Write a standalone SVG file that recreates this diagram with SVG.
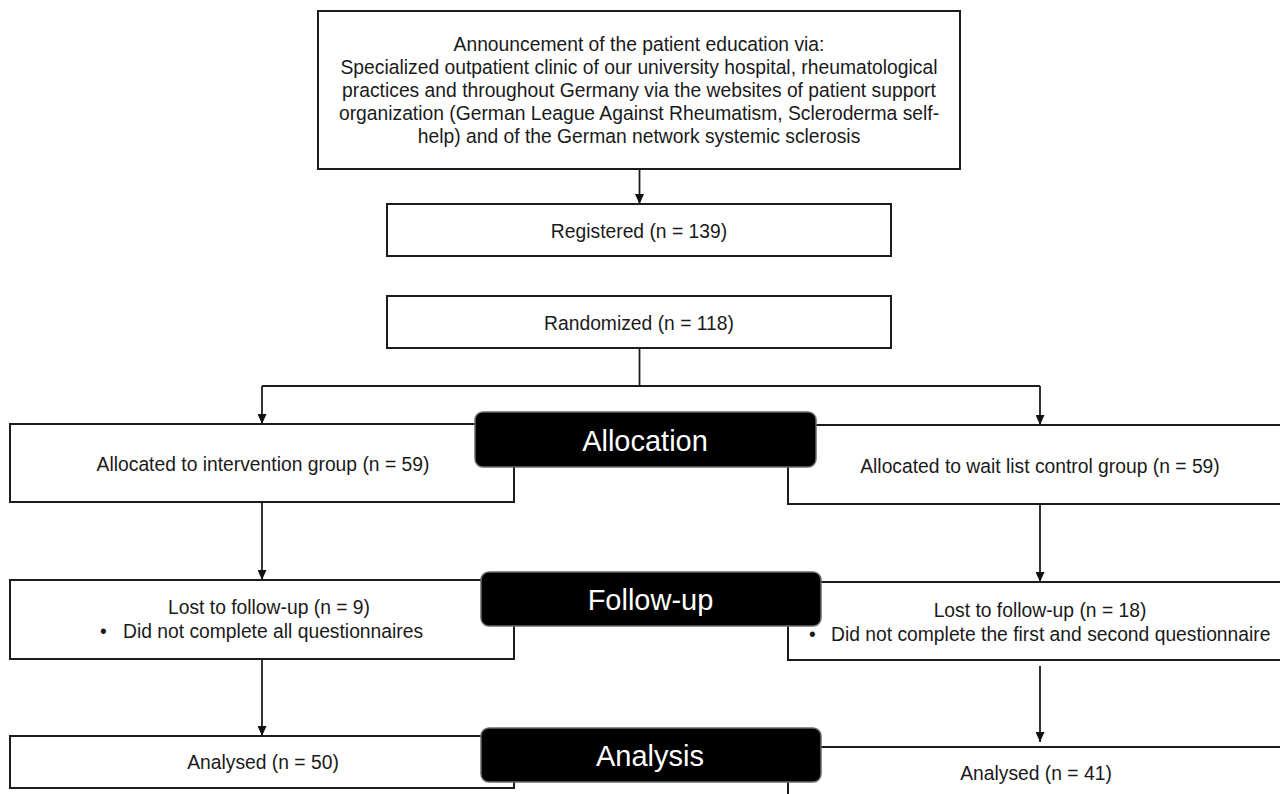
<svg xmlns="http://www.w3.org/2000/svg" width="1280" height="794" viewBox="0 0 1280 794">
<style>
.box{fill:#fff;stroke:#1c1c1c;stroke-width:2}
.stage{fill:#000;stroke:#6a6a6a;stroke-width:1.5}
.t{font-family:"Liberation Sans",Arial,sans-serif;font-size:19.3px;fill:#1a1a1a;text-anchor:middle}
.tl{font-family:"Liberation Sans",Arial,sans-serif;font-size:19.3px;fill:#1a1a1a}
.st{font-family:"Liberation Sans",Arial,sans-serif;font-size:29px;fill:#fff;text-anchor:middle}
.c{fill:none;stroke:#1c1c1c;stroke-width:1.8}
</style>
<defs>
<marker id="arr" markerUnits="userSpaceOnUse" markerWidth="10" markerHeight="9" refX="10" refY="4.5" orient="auto">
<path d="M0,0 L10,4.5 L0,9 z" fill="#111"/>
</marker>
</defs>
<rect width="1280" height="794" fill="#fff"/>

<g id="announcement">
<rect class="box" x="318" y="11" width="642" height="158"/>
<text class="t" x="639" y="51">Announcement of the patient education via:</text>
<text class="t" x="639" y="74">Specialized outpatient clinic of our university hospital, rheumatological</text>
<text class="t" x="639" y="97">practices and throughout Germany via the websites of patient support</text>
<text class="t" x="639" y="120">organization (German League Against Rheumatism, Scleroderma self-</text>
<text class="t" x="639" y="143">help) and of the German network systemic sclerosis</text>
</g>

<g id="registered">
<rect class="box" x="387" y="204" width="504" height="52"/>
<text class="t" x="639" y="238">Registered (n = 139)</text>
</g>

<g id="randomized">
<rect class="box" x="387" y="296" width="504" height="52"/>
<text class="t" x="639" y="330">Randomized (n = 118)</text>
</g>

<g id="alloc-intervention">
<rect class="box" x="10" y="424" width="504" height="78"/>
<text class="t" x="263" y="471">Allocated to intervention group (n = 59)</text>
</g>

<g id="alloc-control">
<rect class="box" x="788" y="425" width="504" height="79"/>
<text class="t" x="1040" y="473">Allocated to wait list control group (n = 59)</text>
</g>

<g id="lost-intervention">
<rect class="box" x="10" y="580" width="504" height="79"/>
<text class="t" x="269" y="614">Lost to follow-up (n = 9)</text>
<text class="tl" x="100" y="638">•</text>
<text class="tl" x="123" y="638">Did not complete all questionnaires</text>
</g>

<g id="lost-control">
<rect class="box" x="788" y="582" width="504" height="78"/>
<text class="t" x="1040" y="617">Lost to follow-up (n = 18)</text>
<text class="tl" x="809" y="641">•</text>
<text class="tl" x="831" y="641">Did not complete the first and second questionnaire</text>
</g>

<g id="analysed-intervention">
<rect class="box" x="10" y="736" width="504" height="52"/>
<text class="t" x="263" y="769">Analysed (n = 50)</text>
</g>

<g id="analysed-control">
<rect class="box" x="788" y="747" width="504" height="80"/>
<text class="t" x="1036" y="780">Analysed (n = 41)</text>
</g>

<g id="stage-allocation">
<rect class="stage" x="475" y="412" width="341" height="55" rx="8"/>
<text class="st" x="645" y="450.5">Allocation</text>
</g>

<g id="stage-followup">
<rect class="stage" x="481" y="572" width="340" height="54" rx="8"/>
<text class="st" x="650.5" y="610">Follow-up</text>
</g>

<g id="stage-analysis">
<rect class="stage" x="481" y="728" width="340" height="54" rx="8"/>
<text class="st" x="650" y="765.5">Analysis</text>
</g>

<g id="connectors">
<line class="c" x1="639.5" y1="169" x2="639.5" y2="204" marker-end="url(#arr)"/>
<polyline class="c" points="639.5,348 639.5,386"/>
<polyline class="c" points="262,386 1040,386"/>
<line class="c" x1="262" y1="386" x2="262" y2="424" marker-end="url(#arr)"/>
<line class="c" x1="1040" y1="386" x2="1040" y2="425" marker-end="url(#arr)"/>
<line class="c" x1="262" y1="502" x2="262" y2="580" marker-end="url(#arr)"/>
<line class="c" x1="1040" y1="504" x2="1040" y2="582" marker-end="url(#arr)"/>
<line class="c" x1="262" y1="659" x2="262" y2="736" marker-end="url(#arr)"/>
<line class="c" x1="1040" y1="666" x2="1040" y2="742" marker-end="url(#arr)"/>
</g>
</svg>
